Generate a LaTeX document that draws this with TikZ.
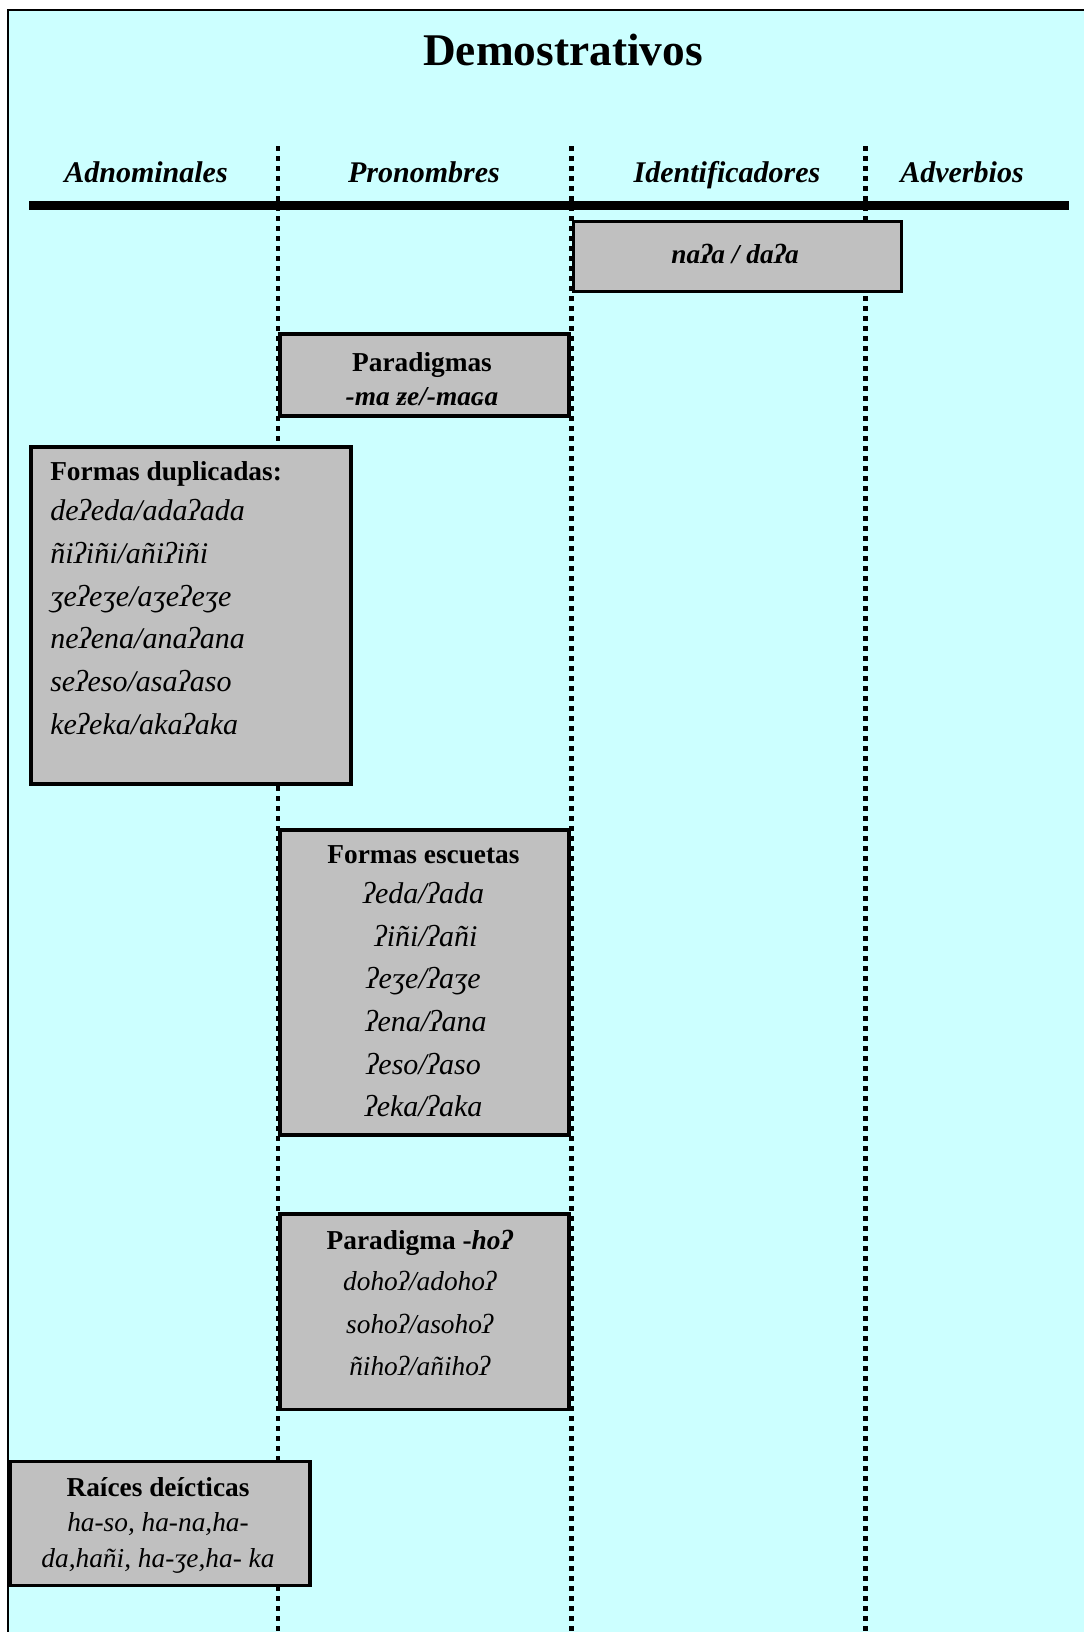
\documentclass[tikz,border=0pt]{standalone}
\usepackage{fontspec}
\setmainfont{Liberation Serif}
\definecolor{nenxanh}{HTML}{CCFFFF}
\definecolor{nenxam}{HTML}{C0C0C0}
\begin{document}
\begin{tikzpicture}[x=0.75pt,y=-0.75pt,
	khung/.style={draw=black,line width=2.8pt,fill=nenxam,inner sep=0pt,anchor=north west},
	chu/.style={font=\fontsize{20.5}{32}\selectfont,inner sep=0pt},
	cot/.style={font=\fontsize{22.5}{27}\selectfont\bfseries\itshape,inner sep=0pt,anchor=base},
	chamcham/.style={line width=3.6pt,dash pattern=on 3.6pt off 3.9pt}]
	\def\px{0.75pt}
	\def\nghieng#1{{\fontsize{22.5}{32}\selectfont\itshape #1}}
	\useasboundingbox (0,0) rectangle (1083,1632);
	\fill[nenxanh,draw=black,line width=1.2pt] (8,10) rectangle (1100,1650); % nền
	\node[font=\fontsize{34}{40}\selectfont\bfseries,inner sep=0pt,anchor=base] (tieude) at (563,65) {Demostrativos};
	% tên các cột
	\node[cot] (adn) at (146,182) {Adnominales};
	\node[cot] (pro) at (424,182) {Pronombres};
	\node[cot] (ide) at (727,182) {Identificadores};
	\node[cot] (adv) at (962,182) {Adverbios};
	\foreach \x in {278,571.5,865.5}
		\draw[chamcham] (\x,146) -- (\x,1632); % đường chấm
	\draw[line width=7pt] (29,205.3) -- (1069,205.3);
	% các hộp
	\node[khung,minimum width=328*\px,minimum height=70*\px] (naa) at (571.5,219.5) {};
	\node[chu,font=\fontsize{20.5}{32}\selectfont\bfseries\itshape,anchor=base] at (735,263) {naʔa / daʔa};
	\node[khung,minimum width=289*\px,minimum height=82*\px] (para) at (278,332) {};
	\node[chu,align=center,font=\fontsize{20.5}{26}\selectfont\bfseries] at (422,379) {Paradigmas\\\itshape -ma ƶe/-maɢa};
	\node[khung,minimum width=320*\px,minimum height=337*\px] (dup) at (29,445) {};
	\node[chu,align=left,anchor=west] at (50,598) {\textbf{Formas duplicadas:}\\[-2pt]
		\nghieng{deʔeda/adaʔada}\\ \nghieng{ñiʔiñi/añiʔiñi}\\ \nghieng{ʒeʔeʒe/aʒeʔeʒe}\\
		\nghieng{neʔena/anaʔana}\\ \nghieng{seʔeso/asaʔaso}\\ \nghieng{keʔeka/akaʔaka}};
	\node[khung,minimum width=289*\px,minimum height=305*\px] (esc) at (278,828) {};
	\node[chu,align=center] at (423.5,981.5) {\textbf{Formas escuetas}\\[-2pt]
		\nghieng{ʔeda/ʔada}\\ \nghieng{\,ʔiñi/ʔañi}\\ \nghieng{ʔeʒe/ʔaʒe}\\
		\nghieng{\,ʔena/ʔana}\\ \nghieng{ʔeso/ʔaso}\\ \nghieng{ʔeka/ʔaka}};
	\node[khung,minimum width=289*\px,minimum height=195.5*\px] (ho) at (278,1212) {};
	\node[chu,align=center] at (420,1303) {\textbf{Paradigma -\textit{hoʔ}}\\[-1pt]
		\textit{dohoʔ/adohoʔ}\\ \textit{sohoʔ/asohoʔ}\\ \textit{ñihoʔ/añihoʔ}};
	\node[khung,minimum width=300*\px,minimum height=124*\px] (raiz) at (8.3,1459.5) {};
	\node[chu,align=center,font=\fontsize{20.5}{26}\selectfont] at (158,1525.5) {\textbf{Raíces deícticas}\\
		\textit{ha-so, ha-na,ha-}\\[1pt] \textit{da,hañi, ha-ʒe,ha- ka}};
\end{tikzpicture}
\end{document}
